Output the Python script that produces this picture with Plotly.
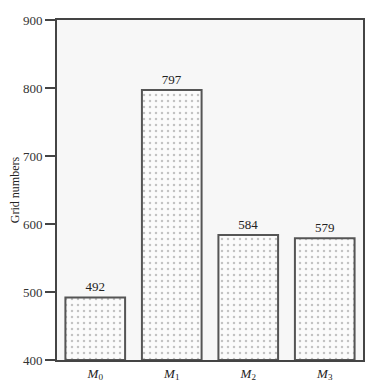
import plotly.graph_objects as go

categories = ["<i>M</i><sub>0</sub>", "<i>M</i><sub>1</sub>", "<i>M</i><sub>2</sub>", "<i>M</i><sub>3</sub>"]
values = [492, 797, 584, 579]
y_ticks = [400, 500, 600, 700, 800, 900]
base_value = 400

fig = go.Figure()
fig.add_trace(go.Bar(
    x=categories, y=[v - base_value for v in values],
    base=base_value,
    marker=dict(color="#fbfbfb", line=dict(color="#555555", width=2),
                pattern=dict(shape=".", fgcolor="#8a8a8a", bgcolor="#fbfbfb", size=6, solidity=0.14)),
    width=0.78,
    text=[str(v) for v in values], textposition="outside",
    textfont=dict(family="Liberation Serif", size=13, color="#222222"),
    cliponaxis=False,
))

fig.update_layout(
    width=379, height=381,
    margin=dict(l=49, r=24, t=12, b=29),
    paper_bgcolor="white", plot_bgcolor="#f7f7f7",
    showlegend=False,
    font=dict(family="Liberation Serif", size=12, color="#222222"),
)
fig.update_yaxes(range=[400, 900], tickvals=y_ticks, ticks="outside", ticklen=10, tickwidth=1.5,
                 tickcolor="#444444", showgrid=False, zeroline=False, automargin=False,
                 tickfont=dict(size=13, color="#333333"),
                 showline=True, linecolor="#444444", linewidth=2, mirror=True,
                 title=dict(text="Grid numbers", standoff=4, font=dict(size=12)))
fig.update_xaxes(showgrid=False, showline=True, linecolor="#444444", linewidth=2, mirror=True,
                 ticks="", tickfont=dict(size=13), automargin=False)
fig.write_html("out.html")
